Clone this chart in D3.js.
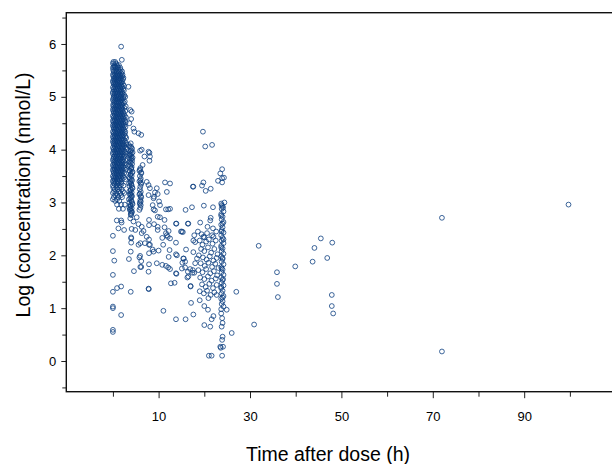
<!DOCTYPE html>
<html><head><meta charset="utf-8">
<script src="https://cdn.jsdelivr.net/npm/d3@7"></script>
<style>body{margin:0;background:#fff}svg{display:block}text{font-family:"Liberation Sans",Arial,Helvetica,sans-serif;fill:#000}</style>
</head><body><svg id="c" width="612" height="464"></svg>
<script>
// ---- axis ticks ----
const xTicksLabeled = [10, 30, 50, 70, 90];
const xTicksPlain = [0, 20, 40, 60, 80, 100];
const yTicksLabeled = [0, 1, 2, 3, 4, 5, 6];
const yTicksPlain = [-0.5, 0.5, 1.5, 2.5, 3.5, 4.5, 5.5, 6.5];
const xTitle = "Time after dose (h)";
const yTitle = "Log (concentration) (nmol/L)";

// ---- observations: 0-3 h, dense core, rows of [logConc, [times]] ----
const earlyRows = [
  [5.95,[1.8]],[5.70,[1.95]],
  [5.66,[0.1,0.5]],[5.60,[0.3,0.9,1.3]],[5.55,[0.0,0.6,1.1,1.6]],[5.48,[0.2,0.8,1.4,2.0]],
  [5.42,[0.0,0.5,1.0,1.5,2.1]],[5.36,[0.3,0.7,1.2,1.8,2.3]],[5.30,[0.0,0.4,0.9,1.4,2.0]],
  [5.24,[0.2,0.6,1.1,1.6,2.2]],[5.18,[0.0,0.5,1.0,1.5,2.0]],[5.12,[0.3,0.8,1.3,1.8,2.4]],
  [5.06,[0.0,0.4,0.9,1.5,2.1]],[5.00,[0.2,0.7,1.2,1.7,2.3,2.7]],[4.94,[0.0,0.5,1.0,1.4,1.9]],
  [4.88,[0.3,0.8,1.3,1.8,2.4]],[4.82,[0.1,0.6,1.1,1.6,2.1,2.8]],[4.76,[0.0,0.4,0.9,1.4,2.0]],
  [4.70,[0.2,0.7,1.2,1.7,2.3]],[4.64,[0.0,0.5,1.0,1.5,2.1,2.6]],[4.58,[0.3,0.8,1.3,1.9,2.4]],
  [4.52,[0.1,0.6,1.1,1.6,2.2,2.8]],[4.46,[0.0,0.4,0.9,1.4,2.0,2.5]],[4.40,[0.2,0.7,1.2,1.7,2.3]],
  [4.34,[0.0,0.5,1.0,1.5,2.1,2.7]],[4.28,[0.3,0.8,1.3,1.8,2.4]],[4.22,[0.1,0.6,1.1,1.6,2.2,2.9]],
  [4.16,[0.0,0.4,0.9,1.4,2.0,2.6]],[4.10,[0.2,0.7,1.2,1.7,2.3,3.0]],[4.04,[0.0,0.5,1.0,1.5,2.1,2.8]],
  [3.98,[0.3,0.8,1.3,1.9,2.5]],[3.92,[0.0,0.6,1.1,1.6,2.2,2.9]],[3.86,[0.2,0.7,1.2,1.8,2.4]],
  [3.80,[0.0,0.5,1.0,1.5,2.1,2.7]],[3.74,[0.3,0.9,1.4,2.0,2.6]],[3.68,[0.1,0.6,1.1,1.7,2.3]],
  [3.62,[0.0,0.4,1.0,1.5,2.1,2.8]],[3.56,[0.2,0.8,1.3,1.9,2.5]],[3.50,[0.0,0.5,1.1,1.6,2.2]],
  [3.44,[0.3,0.9,1.4,2.0,2.7]],[3.38,[0.1,0.6,1.2,1.8]],[3.32,[0.0,0.8,1.5,2.3]],
  [3.25,[0.4,1.1,1.9]],[3.18,[0.0,0.7,1.6,2.5]],[3.10,[0.2,1.2,2.0]],[3.03,[0.5,1.4]],
  [2.96,[0.9,1.8,2.6]],[2.88,[1.3,2.2]],
  [2.66,[0.85,1.8]],[2.62,[1.9]],[2.51,[1.2]],[2.48,[2.45]],[2.37,[0.0]],[2.08,[0.0]],
  [1.90,[0.3]],[1.63,[0.0]],[1.41,[1.8]],[1.38,[0.9]],[1.31,[0.0]],[1.03,[0.0]],[1.00,[0.0]],
  [0.87,[1.8]],[0.59,[0.0]],[0.55,[0.0]]
];
const earlyRowsB = [
  [5.63,[0.0,0.7]],[5.57,[0.2,0.45,1.0]],[5.51,[0.05,0.55,1.2,1.7]],[5.45,[0.25,0.75,1.25,1.8]],
  [5.39,[0.1,0.6,1.1,1.6,2.0]],[5.33,[0.2,0.65,1.15,1.7,2.2]],[5.27,[0.05,0.5,1.05,1.55,1.9]],
  [5.21,[0.35,0.8,1.3,1.85,2.4]],[5.15,[0.15,0.65,1.15,1.7,2.25]],[5.09,[0.0,0.55,1.05,1.6,2.0]],
  [5.03,[0.3,0.85,1.35,1.9,2.5]],[4.97,[0.1,0.6,1.15,1.65,2.2]],[4.91,[0.25,0.75,1.25,1.6,2.15,2.6]],
  [4.85,[0.05,0.5,1.0,1.5,2.0]],[4.79,[0.3,0.8,1.3,1.85,2.5]],[4.73,[0.1,0.55,1.05,1.55,2.05,2.7]],
  [4.67,[0.35,0.85,1.35,1.8,2.4]],[4.61,[0.15,0.65,1.15,1.65,2.2,2.85]],[4.55,[0.0,0.45,0.95,1.45,2.0,2.6]],
  [4.49,[0.3,0.8,1.3,1.85,2.35]],[4.43,[0.1,0.55,1.05,1.55,2.15,2.75]],[4.37,[0.35,0.85,1.35,1.9,2.45]],
  [4.31,[0.15,0.6,1.1,1.6,2.1,2.6]],[4.25,[0.0,0.45,0.95,1.45,2.0,2.75]],[4.19,[0.3,0.8,1.3,1.85,2.4]],
  [4.13,[0.1,0.55,1.05,1.55,2.15,2.85]],[4.07,[0.35,0.85,1.35,1.9,2.5]],[4.01,[0.15,0.65,1.15,1.7,2.25,3.0]],
  [3.95,[0.05,0.5,1.0,1.45,2.0,2.65]],[3.89,[0.35,0.9,1.4,1.95,2.55]],[3.83,[0.1,0.6,1.1,1.65,2.3]],
  [3.77,[0.25,0.75,1.25,1.8,2.4]],[3.71,[0.0,0.45,1.0,1.5,2.05,2.75]],[3.65,[0.3,0.8,1.3,1.85,2.45]],
  [3.59,[0.1,0.6,1.15,1.65,2.2]],[3.53,[0.35,0.9,1.4,2.0]],[3.47,[0.15,0.65,1.2,1.75,2.4]],
  [3.41,[0.0,0.45,1.0,1.55]],[3.35,[0.3,1.05,1.9]],[3.28,[0.1,0.85,1.4]],[3.21,[0.25,1.3,2.2]],
  [3.14,[0.5,1.0,1.8]],[3.06,[0.0,0.9]]
];

// ---- observations around 4 h: [time, logConc] ----
const fourHourObs = [
  [3.4,5.19],[3.8,4.75],[4.1,4.72],[4.0,4.58],[3.6,4.50],[4.5,4.40],[4.7,4.34],
  [3.9,4.12],[3.7,4.06],[4.2,4.02],[4.0,3.99],[3.8,3.97],[4.1,3.93],[3.8,3.91],[3.6,3.89],
  [4.3,3.85],[4.1,3.83],[3.9,3.81],[3.7,3.77],[3.9,3.75],[4.2,3.73],[3.8,3.69],[4.0,3.65],
  [4.0,3.63],[3.6,3.61],[4.3,3.58],[3.9,3.54],[3.8,3.52],[4.1,3.50],[3.7,3.46],[4.0,3.44],
  [4.2,3.42],[3.8,3.38],[4.0,3.35],[4.1,3.33],[3.6,3.31],[4.3,3.27],[3.9,3.25],[3.9,3.23],
  [4.1,3.19],[3.8,3.17],[3.7,3.15],[4.2,3.12],[4.0,3.10],[3.8,3.08],[4.0,3.04],[4.1,3.02],
  [3.6,3.00],[4.3,2.97],[3.8,2.95],[3.9,2.93],[4.1,2.89],[3.7,2.86],[4.0,2.84],[4.2,2.82],
  [3.9,2.78],[4.0,2.76],[3.8,2.70],[4.5,2.64],[4.1,2.50],[4.9,2.48],[4.0,2.34],[4.0,2.32],
  [4.0,2.24],[3.9,2.07],[3.5,1.93],[4.6,1.70],[3.9,1.31],
  [3.5,4.09],[4.0,4.05],[4.3,3.95],[3.6,3.93],[4.0,3.87],[3.7,3.83],[4.2,3.79],[3.5,3.71],
  [4.1,3.67],[3.7,3.59],[4.2,3.56],[3.5,3.48],[3.9,3.40],[3.5,3.36],[4.2,3.29],[3.6,3.21],
  [4.0,3.14],[3.5,3.06],[4.2,2.99],[3.6,2.91],[4.0,2.80],[3.8,2.88]
];

// ---- observations 5-9 h: [time, logConc] ----
const sixEightObs = [
  [5.6,4.31],[6.2,4.28],[6.3,4.00],[5.95,3.98],[6.9,3.87],[6.5,3.71],
  [6.0,3.65],[5.8,3.60],[6.2,3.57],[6.2,3.55],[5.9,3.50],[6.1,3.45],[6.0,3.42],[5.8,3.40],
  [6.2,3.35],[6.0,3.30],[5.9,3.25],[6.1,3.20],[5.8,3.15],[6.1,3.12],[6.2,3.10],[6.0,3.05],
  [5.9,3.00],[5.9,2.97],[6.1,2.95],[6.0,2.90],[5.8,2.86],
  [5.9,3.62],[6.1,3.37],[5.9,3.17],[6.1,3.02],
  [5.2,2.72],[5.6,2.59],[6.3,2.54],[6.7,2.46],[6.3,2.42],[6.0,2.23],[5.6,2.20],
  [5.95,1.99],[5.8,1.96],[6.2,1.89],[6.0,1.78],[6.2,1.78],
  [8.0,3.94],[7.8,3.96],[8.1,3.87],[8.0,3.79],[7.4,3.39],[7.8,3.33],[8.1,3.27],[7.8,3.14],
  [8.9,3.08],[8.7,2.95],[8.9,2.87],[9.2,2.85],[7.9,2.67],[7.9,2.57],[7.4,2.35],[7.9,2.30],
  [7.0,2.23],[8.1,2.20],[7.9,2.20],[8.7,2.11],[8.9,2.07],[7.9,2.04],[7.9,1.83],[7.8,1.69],
  [7.85,1.36],[7.8,1.37]
];

// ---- observations 9-18.5 h: [time, logConc] ----
const midObs = [
  [9.6,3.27],[9.2,3.19],[9.8,3.16],[9.0,3.11],[10.1,3.02],[10.3,2.95],[9.8,2.73],[10.3,2.72],
  [11.3,2.67],[9.0,2.59],[9.8,2.54],[9.8,2.48],[11.3,2.53],[11.6,2.42],[10.0,2.09],[9.6,1.85],
  [10.8,1.82],[12.1,1.77],[12.5,1.74],[13.8,1.66],[12.7,1.47],[13.5,1.48],[11.05,0.95],
  [13.8,0.79],[15.9,0.79],[11.4,3.38],[12.5,3.36],[11.8,3.20],[11.6,2.87],[12.5,2.88],
  [13.8,2.60],[15.1,2.45],[11.8,2.38],[12.5,2.32],[12.0,2.35],[10.8,2.33],[12.2,2.46],
  [11.0,2.20],[13.8,2.24],[14.9,2.45],[16.0,2.11],[15.5,1.94],[16.4,1.69],[16.9,1.74],
  [17.4,1.67],[12.4,2.10],[13.8,2.02],[14.0,2.00],[12.2,1.97],[15.2,1.86],[15.8,1.77],
  [15.1,1.75],[16.5,1.60],[13.9,1.65],[11.6,1.80],[17.0,1.42],[17.1,1.10],[17.6,0.88],
  [15.9,2.86],[17.3,2.91],[17.5,3.30],[17.6,3.30],[16.5,2.60],[16.4,2.60],[15.3,2.44],
  [17.8,2.38],[17.6,2.28],[18.0,2.25],[17.6,2.06],[15.4,1.94],[15.8,1.88],[18.4,1.94],
  [18.0,1.85],[17.5,1.72],[17.8,1.67],[16.3,1.58],[17.0,1.41],[13.9,2.60],[12.1,2.87]
];

// ---- observations 18.5-26 h: [time, logConc] ----
const dayOneObs = [
  [19.7,4.34],[20.2,4.06],[21.7,4.09],[23.9,3.63],[23.5,3.55],[23.9,3.46],[24.3,3.47],
  [23.0,3.41],[23.9,3.38],[19.8,3.38],[19.5,3.32],[20.3,3.22],[21.4,3.26],[19.9,2.94],
  [21.9,2.91],[23.8,2.95],[24.4,3.00],[21.4,2.71],[21.3,2.66],[19.1,2.62],[20.7,2.54],
  [21.9,2.51],[20.0,2.34],[22.0,2.35],[19.8,2.35],
  [19.4,2.40],[20.6,2.42],[21.7,2.38],[22.6,2.45],[18.6,2.45],
  [19.0,2.28],[19.6,2.20],[20.4,2.26],[21.0,2.30],[21.8,2.22],[22.5,2.28],[19.3,2.12],
  [20.0,2.08],[20.8,2.15],[21.5,2.05],[22.2,2.12],[22.9,2.02],[18.8,2.00],[19.7,1.96],
  [20.5,1.92],[21.2,1.98],[22.0,1.90],[22.7,1.95],[19.2,1.85],[20.1,1.80],[20.9,1.86],
  [21.7,1.78],[22.4,1.84],[23.1,1.76],[18.7,1.72],[19.6,1.68],[20.4,1.74],[21.3,1.66],
  [22.1,1.70],[22.8,1.62],[19.1,1.58],[20.0,1.55],[20.8,1.60],[21.6,1.52],[22.5,1.56],
  [19.5,1.45],[20.3,1.40],[21.1,1.46],[21.9,1.38],[22.7,1.44],[19.0,1.32],[19.9,1.28],
  [20.6,1.33],[21.4,1.25],[22.2,1.30],[20.9,1.19],[22.7,1.25],[19.0,1.15],[20.0,1.04],
  [20.8,0.97],[22.0,0.85],[21.6,0.79],[21.3,0.65],[20.0,0.68],[21.0,0.10],[21.6,0.10],
  [23.5,0.27],[24.9,0.97],
  [23.7,2.98],[24.0,2.93],[23.8,2.88],[24.2,2.83],[23.7,2.78],[24.0,2.73],[23.8,2.68],
  [24.2,2.63],[23.7,2.58],[24.0,2.53],[23.8,2.48],[24.2,2.43],[23.7,2.38],[24.0,2.33],
  [23.8,2.28],[24.2,2.23],[23.7,2.18],[24.0,2.13],[23.8,2.08],[24.2,2.03],[23.7,1.98],
  [24.0,1.93],[23.8,1.88],[24.2,1.83],[23.7,1.78],[24.0,1.73],[23.8,1.68],[24.2,1.63],
  [23.7,1.58],[24.0,1.53],[23.8,1.48],[24.2,1.43],[23.7,1.38],[24.0,1.33],[23.8,1.28],
  [24.2,1.23],[23.7,1.18],[24.0,1.13],[23.8,1.08],[24.2,1.03],[23.7,0.98],
  [24.1,2.90],[23.7,2.75],[24.0,2.60],[23.8,2.45],[24.2,2.30],[23.7,2.15],[24.0,1.95],
  [23.8,1.75],[24.1,1.55],[23.7,1.40],[24.0,1.20],
  [23.7,0.90],[23.9,0.81],[24.0,0.72],[23.8,0.65],[24.0,0.46],[23.9,0.40],[24.1,0.27],
  [23.6,0.25],[23.9,0.10]
];

// ---- observations after 26 h: [time, logConc] ----
const lateObs = [
  [26.0,0.53],[27.0,1.31],[30.9,0.69],[31.9,2.18],[35.9,1.68],[35.9,1.46],[36.1,1.21],
  [39.9,1.79],[43.7,1.88],[44.1,2.14],[45.5,2.32],[46.9,1.95],[48.0,2.24],[47.9,1.25],
  [47.9,1.04],[48.2,0.90],[72.0,2.71],[72.0,0.18],[99.7,2.96]
];

// ---- build ----
const points = [];
[earlyRows, earlyRowsB].forEach(rows => rows.forEach(([c, ts]) => ts.forEach(t => points.push([t, c]))));
[fourHourObs, sixEightObs, midObs, dayOneObs, lateObs].forEach(a => a.forEach(p => points.push(p)));

const svg = d3.select("#c");
const pLeft = 66.3, pRight = 643, pTop = 12.7, pBottom = 391.7;
const x = d3.scaleLinear().domain([-10.2, 116]).range([pLeft, pRight]);
const y = d3.scaleLinear().domain([-0.581, 6.592]).range([pBottom, pTop]);

const fontSize = 13;
const yAxisMaj = d3.axisLeft(y).tickValues(yTicksLabeled).tickSize(5).tickPadding(5).tickFormat(d3.format("d"));
const yAxisMin = d3.axisLeft(y).tickValues(yTicksPlain).tickSize(4).tickFormat("");
const gy = svg.append("g").attr("transform", `translate(${pLeft},0)`).call(yAxisMaj);
svg.append("g").attr("transform", `translate(${pLeft},0)`).call(yAxisMin).select(".domain").remove();
gy.select(".domain").remove();
gy.selectAll("text").style("font-size", fontSize + "px").attr("fill", "#000");

const xAxisMaj = d3.axisBottom(x).tickValues(xTicksLabeled).tickSize(6.5).tickPadding(14).tickFormat(d3.format("d"));
const xAxisMin = d3.axisBottom(x).tickValues(xTicksPlain).tickSize(5).tickFormat("");
const gx = svg.append("g").attr("transform", `translate(0,${pBottom})`).call(xAxisMaj);
svg.append("g").attr("transform", `translate(0,${pBottom})`).call(xAxisMin).select(".domain").remove();
gx.select(".domain").remove();
gx.selectAll("text").style("font-size", fontSize + "px").attr("fill", "#000");
svg.selectAll(".tick line").attr("stroke", "#222").attr("stroke-width", 1);

svg.append("g").selectAll("circle").data(points).join("circle")
  .attr("cx", d => x(d[0])).attr("cy", d => y(d[1])).attr("r", 2.4)
  .attr("fill", "none").attr("stroke", "#0d3f80").attr("stroke-width", 0.8);

svg.append("rect").attr("x", pLeft).attr("y", pTop).attr("width", pRight - pLeft).attr("height", pBottom - pTop)
  .attr("fill", "none").attr("stroke", "#111").attr("stroke-width", 1.4);

svg.append("text").attr("x", 328).attr("y", 461).attr("text-anchor", "middle")
  .style("font-size", "19.5px").text(xTitle);
svg.append("text").attr("transform", "translate(29.5,195) rotate(-90)").attr("text-anchor", "middle")
  .style("font-size", "19.5px").text(yTitle);
</script></body></html>
